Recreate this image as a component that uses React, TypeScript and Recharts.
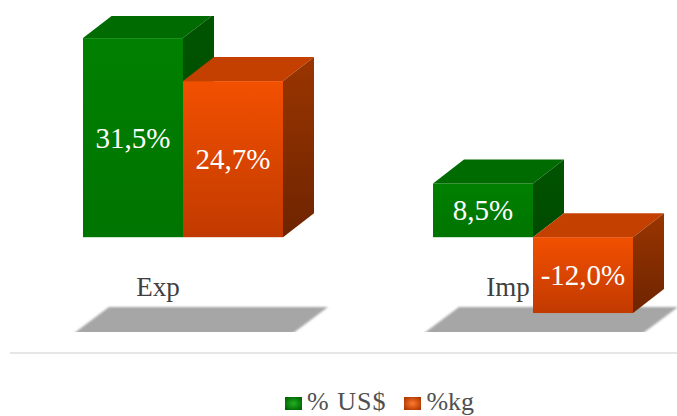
import React from 'react';
import { BarChart, Bar, XAxis, YAxis, Legend, LabelList } from 'recharts';

const categories = ['Exp', 'Imp'];
const usdPct = [31.5, 8.5];
const kgPct = [24.7, -12.0];
const seriesNames = ['% US$', '%kg'];

const data = categories.map((c, i) => ({ name: c, usd: usdPct[i], kg: kgPct[i] }));

const DX = 31;
const DY = 24;
const FONT = "'Liberation Serif', 'Times New Roman', serif";

const fmt = (v: number) => v.toFixed(1).replace('.', ',') + '%';

// floor shadow under a category, drawn with the first series so the boxes sit on top of it
const FloorShadow = ({ cx, bottom }: { cx: number; bottom: number }) => (
  <polygon
    points={`${cx - 114},${bottom + 5} ${cx - 74},${bottom - 25} ${cx + 145},${bottom - 25} ${cx + 105},${bottom + 5}`}
    fill="#a6a6a6"
    filter="url(#shadowBlur)"
  />
);

const makeBox = (frontId: string, topFill: string, sideId: string, withFloor: boolean) => (props: any) => {
  const { x, y, width, height, background } = props;
  const t = Math.min(y, y + height);
  const h = Math.abs(height);
  const plotBottom = background ? background.y + background.height : 332;
  return (
    <g>
      {withFloor && <FloorShadow cx={x + width} bottom={plotBottom} />}
      <rect x={x} y={t} width={width} height={h} fill={`url(#${frontId})`} />
      <polygon
        points={`${x},${t} ${x + DX},${t - DY} ${x + width + DX},${t - DY} ${x + width},${t}`}
        fill={topFill}
      />
      <polygon
        points={`${x + width},${t} ${x + width + DX},${t - DY} ${x + width + DX},${t + h - DY} ${x + width},${t + h}`}
        fill={`url(#${sideId})`}
      />
    </g>
  );
};

const renderLabel = (props: any) => {
  const { x, y, width, height, value } = props;
  const t = Math.min(y, y + height);
  const h = Math.abs(height);
  return (
    <text
      x={x + width / 2}
      y={t + h / 2}
      dy="0.35em"
      textAnchor="middle"
      fill="#ffffff"
      fontSize={29}
      fontFamily={FONT}
    >
      {fmt(value)}
    </text>
  );
};

const CategoryTick = (props: any) => {
  const { x, y, payload } = props;
  return (
    <text x={x - 25} y={y - 36} textAnchor="middle" fill="#404040" fontSize={27} fontFamily={FONT}>
      {payload.value}
    </text>
  );
};

const legendGrad = ['lgGreen', 'lgOrange'];

const LegendContent = (props: any) => {
  const { payload } = props;
  return (
    <div style={{ position: 'relative', width: 677, height: 64 }}>
      <div style={{ position: 'absolute', left: 10, right: 0, top: 0, height: 2, background: '#e6e6e6' }} />
      <div
        style={{
          position: 'absolute',
          top: 38,
          left: 285,
          display: 'flex',
          alignItems: 'center',
          fontFamily: FONT,
          fontSize: 26,
          color: '#505050',
          lineHeight: '24px',
          whiteSpace: 'nowrap',
        }}
      >
        {(payload || []).map((p: any, i: number) => (
          <div key={i} style={{ display: 'flex', alignItems: 'center', marginRight: 18 }}>
            <svg width={17} height={13} style={{ marginRight: 5, marginTop: 3 }}>
              <rect x={0} y={0} width={17} height={13} fill={`url(#${legendGrad[i]})`} />
            </svg>
            <span style={{ letterSpacing: i === 0 ? 1 : 0 }}>{p.value}</span>
          </div>
        ))}
      </div>
    </div>
  );
};

export default function App() {
  return (
    <div style={{ position: 'absolute', left: 0, top: 0, width: 677, height: 416, overflow: 'hidden', background: '#ffffff' }}>
      <svg width={0} height={0} style={{ position: 'absolute' }}>
        <defs>
          <linearGradient id="gFront" x1="0" y1="0" x2="0" y2="1">
            <stop offset="0%" stopColor="#008000" />
            <stop offset="100%" stopColor="#007400" />
          </linearGradient>
          <linearGradient id="gSide" x1="0" y1="0" x2="0" y2="1">
            <stop offset="0%" stopColor="#005400" />
            <stop offset="100%" stopColor="#004a00" />
          </linearGradient>
          <linearGradient id="oFront" x1="0" y1="0" x2="0" y2="1">
            <stop offset="0%" stopColor="#f25000" />
            <stop offset="100%" stopColor="#c23a00" />
          </linearGradient>
          <linearGradient id="oSide" x1="0" y1="0" x2="0" y2="1">
            <stop offset="0%" stopColor="#9a3500" />
            <stop offset="100%" stopColor="#6e2400" />
          </linearGradient>
          <radialGradient id="lgGreen" cx="0.5" cy="0.5" r="0.6">
            <stop offset="0%" stopColor="#22b022" />
            <stop offset="100%" stopColor="#006400" />
          </radialGradient>
          <radialGradient id="lgOrange" cx="0.5" cy="0.5" r="0.6">
            <stop offset="0%" stopColor="#ff7a30" />
            <stop offset="100%" stopColor="#b03800" />
          </radialGradient>
          <filter id="shadowBlur" x="-10%" y="-30%" width="120%" height="160%">
            <feGaussianBlur stdDeviation="1.2" />
          </filter>
        </defs>
      </svg>
      <BarChart
        width={708}
        height={416}
        data={data}
        margin={{ top: 16, right: 0, left: 8, bottom: 54 }}
        barGap={0}
      >
        <XAxis
          dataKey="name"
          axisLine={false}
          tickLine={false}
          tickSize={0}
          tickMargin={0}
          tick={<CategoryTick />}
          interval={0}
        />
        <YAxis hide domain={[-15, 35]} type="number" allowDataOverflow />
        <Bar
          dataKey="usd"
          name={seriesNames[0]}
          fill="#007a00"
          barSize={100}
          isAnimationActive={false}
          shape={makeBox('gFront', '#006b00', 'gSide', true)}
        >
          <LabelList dataKey="usd" content={renderLabel} />
        </Bar>
        <Bar
          dataKey="kg"
          name={seriesNames[1]}
          fill="#e04800"
          barSize={100}
          isAnimationActive={false}
          shape={makeBox('oFront', '#c44000', 'oSide', false)}
        >
          <LabelList dataKey="kg" content={renderLabel} />
        </Bar>
        <Legend
          verticalAlign="middle"
          align="center"
          layout="horizontal"
          content={<LegendContent />}
          wrapperStyle={{ top: 352, left: 0, width: 677, height: 64 }}
        />
      </BarChart>
    </div>
  );
}
